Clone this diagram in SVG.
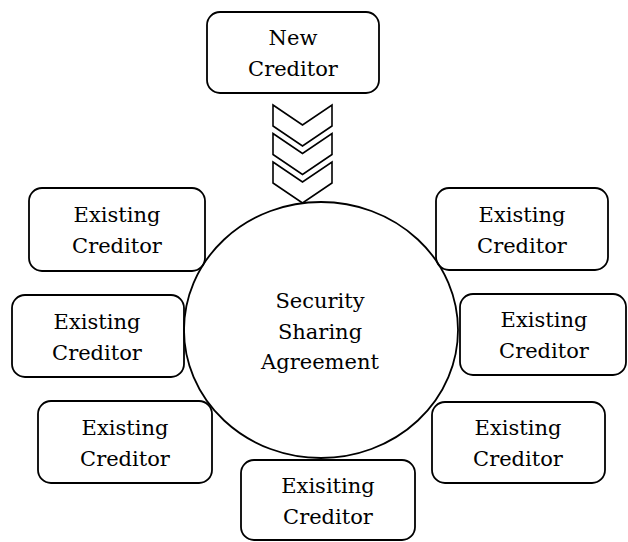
<svg xmlns="http://www.w3.org/2000/svg" width="628" height="542" viewBox="0 0 628 542">
<style>
  .box { fill: none; stroke: #000; stroke-width: 1.8; }
  .circ { fill: #fff; stroke: #000; stroke-width: 1.8; }
  .chev { fill: #fff; stroke: #000; stroke-width: 1.6; stroke-linejoin: miter; }
  text { font-family: "DejaVu Serif", "Liberation Serif", serif; font-size: 21px; fill: #000; text-anchor: middle; }
</style>
<rect width="628" height="542" fill="#fff"/>
<g id="center">
  <ellipse class="circ" cx="321" cy="330" rx="137" ry="128"/>
  <text x="320" y="308">Security</text>
  <text x="320" y="338.5">Sharing</text>
  <text x="320" y="369">Agreement</text>
</g>
<g id="connectors">
  <polygon class="chev" points="273,105 302.5,125 332,105 332,126 302.5,146 273,126"/>
  <polygon class="chev" points="273,133.5 302.5,153.5 332,133.5 332,154.5 302.5,174.5 273,154.5"/>
  <polygon class="chev" points="273,162 302.5,182 332,162 332,183 302.5,203 273,183"/>
</g>
<g id="new-creditor">
  <rect class="box" x="207" y="12" width="172" height="81" rx="13"/>
  <text x="293" y="45">New</text>
  <text x="293" y="76">Creditor</text>
</g>
<g id="existing-top-left">
  <rect class="box" x="29" y="188" width="176" height="83" rx="13"/>
  <text x="117" y="222">Existing</text>
  <text x="117" y="253">Creditor</text>
</g>
<g id="existing-mid-left">
  <rect class="box" x="12" y="295" width="172" height="82" rx="13"/>
  <text x="97" y="328.5">Existing</text>
  <text x="97" y="359.5">Creditor</text>
</g>
<g id="existing-bottom-left">
  <rect class="box" x="38" y="401" width="174" height="82" rx="13"/>
  <text x="125" y="434.5">Existing</text>
  <text x="125" y="465.5">Creditor</text>
</g>
<g id="existing-top-right">
  <rect class="box" x="436" y="188" width="172" height="82" rx="13"/>
  <text x="522" y="221.5">Existing</text>
  <text x="522" y="252.5">Creditor</text>
</g>
<g id="existing-mid-right">
  <rect class="box" x="460" y="294" width="166" height="81" rx="13"/>
  <text x="544" y="327">Existing</text>
  <text x="544" y="358">Creditor</text>
</g>
<g id="existing-bottom-right">
  <rect class="box" x="432" y="402" width="173" height="81" rx="13"/>
  <text x="518" y="435">Existing</text>
  <text x="518" y="466">Creditor</text>
</g>
<g id="existing-bottom-center">
  <rect class="box" x="241" y="460" width="174" height="80" rx="13"/>
  <text x="328" y="492.5">Exisiting</text>
  <text x="328" y="523.5">Creditor</text>
</g>
</svg>
